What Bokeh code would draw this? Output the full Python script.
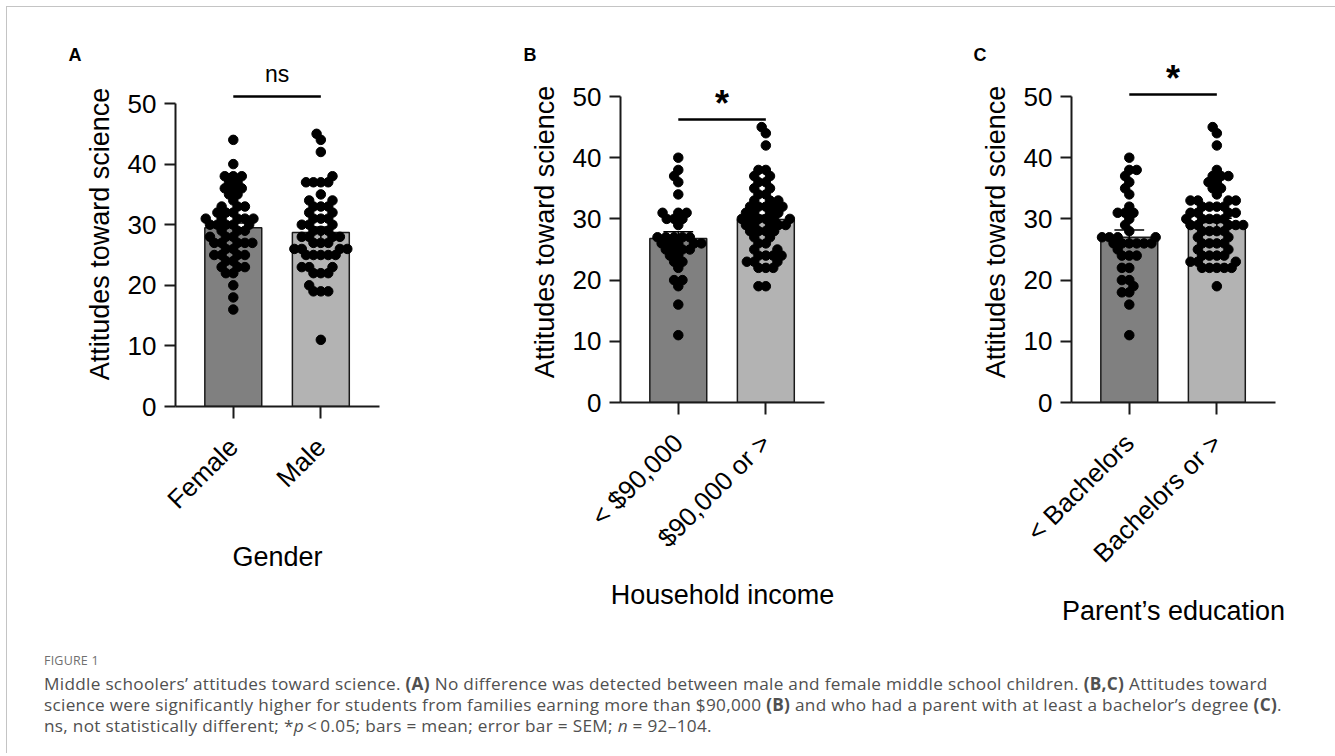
import math
from bokeh.plotting import figure
from bokeh.models import Range1d, FixedTicker, Label, Div, Title
from bokeh.layouts import row, column
from bokeh.embed import file_html
from bokeh.resources import INLINE

FONT = "Liberation Sans"

# ---------------- data ----------------
gender_categories = ["Female", "Male"]
gender_female = [44, 40, 38, 38, 38, 37, 37, 36, 36, 36, 35, 35, 34, 33, 33, 33, 32, 32, 32,
                 31, 31, 31, 31, 31, 30, 30, 30, 30, 30, 29, 29, 29, 28, 28, 28,
                 27, 27, 27, 27, 27, 26, 26, 25, 25, 25, 25, 24, 24, 23, 23, 23, 22, 22, 20, 18, 16]
gender_male = [45, 44, 42, 38, 37, 37, 37, 37, 35, 34, 34, 33, 33, 33, 32, 32, 31, 31, 31,
               30, 30, 30, 29, 29, 29, 28, 28, 28, 28, 27, 27, 27, 26, 26, 26, 26,
               25, 25, 25, 25, 25, 23, 23, 23, 22, 22, 22, 20, 19, 19, 19, 11]
gender_means = [29.5, 28.7]
gender_sems = [0.8, 0.9]

income_categories = ["< $90,000", "$90,000 or >"]
income_low = [40, 38, 37, 36, 34, 31, 31, 31, 30, 30, 30, 29, 27, 27, 27, 27, 27,
              26, 26, 26, 26, 26, 25, 25, 25, 25, 24, 24, 23, 23, 22, 20, 20, 19, 16, 11]
income_high = [45, 44, 42, 38, 38, 37, 37, 36, 36, 35, 35, 34, 34, 33, 33, 33,
               32, 32, 32, 32, 32, 31, 31, 31, 31, 30, 30, 30, 30, 30, 30,
               29, 29, 29, 29, 29, 28, 28, 28, 28, 27, 27, 26, 26, 25, 25,
               24, 24, 24, 24, 23, 23, 23, 22, 22, 22, 19, 19]
income_means = [26.8, 29.9]
income_sems = [1.1, 0.7]

education_categories = ["< Bachelors", "Bachelors or >"]
education_low = [40, 38, 38, 37, 36, 35, 34, 32, 31, 31, 31, 30, 29, 28, 27, 27, 27, 27,
                 26, 26, 26, 26, 26, 26, 25, 24, 24, 24, 22, 22, 20, 20, 19, 18, 18, 16, 11]
education_high = [45, 44, 42, 38, 37, 37, 37, 36, 36, 35, 35, 34, 33, 33, 33, 33,
                  32, 32, 32, 32, 31, 31, 31, 31, 30, 30, 30, 30, 30, 29, 29, 29, 29, 29,
                  28, 28, 28, 28, 27, 27, 26, 26, 26, 26, 25, 25, 24, 24, 24, 24,
                  23, 23, 23, 22, 22, 22, 22, 22, 19]
education_means = [27.0, 29.4]
education_sems = [1.2, 0.7]

y_ticks = [0, 10, 20, 30, 40, 50]

# ---------------- layout / style ----------------
BAR_COLORS = ["#808080", "#b3b3b3"]
X_START, X_END = 0.34, 2.67
FRAME_W = 204
PPX = FRAME_W / (X_END - X_START)
PAGE_TOP = 8
FRAME_TOP_PAGE = 62
FIG_BOTTOM_PAGE = 648


def swarm(vals, center, ppx, ppy, d=7.4):
    order = sorted(range(len(vals)), key=lambda i: vals[i])
    placed = []
    xs = [0.0] * len(vals)
    for i in order:
        y = vals[i] * ppy
        cands = [0.0]
        for (px, py) in placed:
            dy = abs(py - y)
            if dy < d:
                dx = math.sqrt(d * d - dy * dy)
                cands.extend([px + dx, px - dx])
        cands.sort(key=lambda c: (round(abs(c), 6), c))
        chosen = 0.0
        for c in cands:
            if all((c - px) ** 2 + (y - py) ** 2 >= d * d - 1e-6 for px, py in placed):
                chosen = c
                break
        placed.append((chosen, y))
        xs[i] = center + chosen / ppx
    return xs


def make_panel(letter, letter_x, cats, groups, means, sems, xlabel,
               sig_text, sig_line_page, sig_text_page, sig_size, sig_style,
               y0_page, ppu, page_left, fig_w, frame_left_page):
    frame_h = y0_page - FRAME_TOP_PAGE
    y_top = frame_h / ppu
    left = frame_left_page - page_left
    right = fig_w - left - FRAME_W
    p = figure(frame_width=FRAME_W, frame_height=frame_h,
               min_border_left=left, min_border_right=right,
               min_border_top=FRAME_TOP_PAGE - PAGE_TOP,
               min_border_bottom=FIG_BOTTOM_PAGE - y0_page,
               x_range=Range1d(X_START, X_END), y_range=Range1d(0, y_top),
               output_backend="svg", toolbar_location=None)
    p.title = Title(text=letter, align="left", offset=letter_x - 6 - frame_left_page,
                    standoff=-6, text_font=FONT, text_font_size="18px",
                    text_font_style="bold", text_color="black")
    p.xgrid.visible = False
    p.ygrid.visible = False
    p.outline_line_color = None
    p.background_fill_color = "white"
    p.border_fill_color = "white"

    ya = p.yaxis[0]
    ya.ticker = FixedTicker(ticks=y_ticks, minor_ticks=[])
    ya.bounds = (0, 50)
    ya.axis_line_width = 2
    ya.axis_line_color = "#1a1a1a"
    ya.major_tick_line_width = 2
    ya.major_tick_line_color = "#1a1a1a"
    ya.major_tick_out = 11
    ya.major_tick_in = 0
    ya.minor_tick_out = 0
    ya.minor_tick_in = 0
    ya.major_label_standoff = 8
    ya.major_label_text_font = FONT
    ya.major_label_text_font_size = "26px"
    ya.major_label_text_color = "black"
    ya.axis_label = "Attitudes toward science"
    ya.axis_label_text_font = FONT
    ya.axis_label_text_font_size = "27px"
    ya.axis_label_text_font_style = "normal"
    ya.axis_label_text_color = "black"
    ya.axis_label_standoff = 10

    xa = p.xaxis[0]
    xa.ticker = FixedTicker(ticks=[1, 2], minor_ticks=[])
    xa.major_label_overrides = {1: cats[0], 2: cats[1]}
    xa.major_label_orientation = math.pi / 4
    xa.axis_line_width = 2
    xa.axis_line_color = "#1a1a1a"
    xa.major_tick_line_width = 2
    xa.major_tick_line_color = "#1a1a1a"
    xa.major_tick_out = 12
    xa.major_tick_in = 0
    xa.minor_tick_out = 0
    xa.minor_tick_in = 0
    xa.major_label_standoff = 24
    xa.major_label_text_font = FONT
    xa.major_label_text_font_size = "26px"
    xa.major_label_text_color = "black"
    xa.axis_label = xlabel
    xa.axis_label_text_font = FONT
    xa.axis_label_text_font_size = "27px"
    xa.axis_label_text_font_style = "normal"
    xa.axis_label_text_color = "black"
    xa.axis_label_standoff = 14

    pos = [1, 2]
    p.vbar(x=pos, top=means, width=0.65, fill_color=BAR_COLORS,
           line_color="#1a1a1a", line_width=1.5)
    lo = [m - s for m, s in zip(means, sems)]
    hi = [m + s for m, s in zip(means, sems)]
    p.segment(x0=pos, y0=lo, x1=pos, y1=hi, line_color="black", line_width=1.5)
    p.segment(x0=[x - 0.17 for x in pos], y0=hi, x1=[x + 0.17 for x in pos], y1=hi,
              line_color="black", line_width=1.5)

    for k, g in enumerate(groups):
        xs = swarm(g, pos[k], PPX, ppu)
        p.scatter(xs, g, size=9.5, fill_color="black", line_color="black")

    sig_y = (y0_page - sig_line_page) / ppu
    p.segment(x0=[1], y0=[sig_y], x1=[2], y1=[sig_y], line_color="black", line_width=2.5)
    p.add_layout(Label(x=1.5, y=(y0_page - sig_text_page) / ppu, text=sig_text,
                       text_align="center", text_baseline="middle",
                       text_font=FONT, text_font_size=sig_size,
                       text_font_style=sig_style, text_color="black"))
    return p


pA = make_panel("A", 75, gender_categories, [gender_female, gender_male],
                gender_means, gender_sems, "Gender",
                "ns", 97, 74, "23px", "normal",
                y0_page=407, ppu=6.06, page_left=8, fig_w=447, frame_left_page=176)
pB = make_panel("B", 530, income_categories, [income_low, income_high],
                income_means, income_sems, "Household income",
                "*", 120, 104, "36px", "bold",
                y0_page=403, ppu=6.12, page_left=455, fig_w=450, frame_left_page=621)
pC = make_panel("C", 980, education_categories, [education_low, education_high],
                education_means, education_sems, "Parent\u2019s education",
                "*", 95, 79, "36px", "bold",
                y0_page=403, ppu=6.12, page_left=905, fig_w=424, frame_left_page=1072)

caption_html = (
    '<div style="font-family:\'Open Sans\',\'Noto Sans\',sans-serif;padding-left:32px;white-space:nowrap;">'
    '<div style="font-size:12.5px;color:#6f6f6f;margin-top:0px;letter-spacing:0.2px;">FIGURE 1</div>'
    '<div style="font-size:17.2px;line-height:21px;color:#505050;margin-top:3px;letter-spacing:0.3px;">'
    'Middle schoolers\u2019 attitudes toward science. <b>(A)</b> No difference was detected between male and '
    'female middle school children. <b>(B,C)</b> Attitudes toward<br>'
    'science were significantly higher for students from families earning more than $90,000 <b>(B)</b> '
    'and who had a parent with at least a bachelor\u2019s degree <b>(C)</b>.<br>'
    'ns, not statistically different; *<i>p</i>&thinsp;&lt;&thinsp;0.05; bars = mean; error bar = SEM; '
    '<i>n</i> = 92\u2013104.'
    '</div></div>'
)
caption = Div(text=caption_html, width=1321, height=96)

layout = column(row(pA, pB, pC), caption,
                styles={"margin-left": "6px", "margin-top": "6px",
                        "border-top": "1px solid #c4c4c4",
                        "border-left": "1px solid #c4c4c4",
                        "border-right": "1px solid #c4c4c4"})

open("out.html", "w").write(file_html(layout, INLINE))
